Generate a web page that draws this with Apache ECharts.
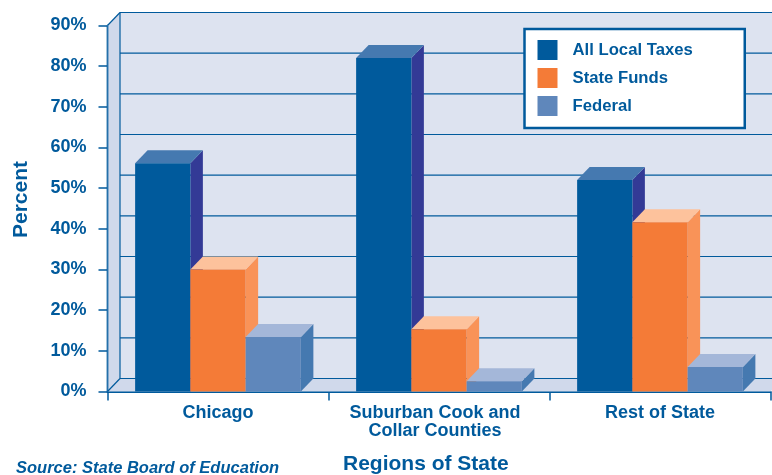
<!DOCTYPE html>
<html>
<head>
<meta charset="utf-8">
<style>html,body{margin:0;padding:0;background:#fff}#c{width:772px;height:475px}</style>
<script src="https://cdn.jsdelivr.net/npm/echarts@6/dist/echarts.min.js"></script>
</head>
<body>
<div id="c"></div>
<script>
var categories = ['Chicago', 'Suburban Cook and\nCollar Counties', 'Rest of State'];
var allLocalTaxes = [56.1, 82, 52];
var stateFunds = [30, 15.3, 41.6];
var federal = [13.4, 2.5, 6];
var yTicks = [0, 10, 20, 30, 40, 50, 60, 70, 80, 90];

var BLUE = '#005a9c';
var DX = 12.5, DY = -13;
var FONT = '"Liberation Sans", Arial, sans-serif';

var chart = echarts.init(document.getElementById('c'), null, {renderer: 'canvas'});

function wallRender(params, api) {
  var cs = params.coordSys;
  var left = cs.x, right = cs.x + cs.width;
  var y0 = api.coord([0, 0])[1], yTop = api.coord([0, 90])[1];
  var far = right + 40;
  var kids = [
    {type: 'polygon', shape: {points: [[left + DX, yTop + DY], [far, yTop + DY], [far, y0 + DY], [left + DX, y0 + DY]]},
      style: {fill: '#dde3f0'}},
    {type: 'polygon', shape: {points: [[left, yTop], [left + DX, yTop + DY], [left + DX, y0 + DY], [left, y0]]},
      style: {fill: '#d0d9eb'}},
    {type: 'polygon', shape: {points: [[left, y0], [left + DX, y0 + DY], [right + DX, y0 + DY], [right, y0]]},
      style: {fill: '#d0d9eb'}}
  ];
  yTicks.forEach(function (t) {
    var y = api.coord([0, t])[1] + DY;
    kids.push({type: 'line', shape: {x1: left + DX, y1: y, x2: far, y2: y},
      style: {stroke: BLUE, lineWidth: 1.2}});
  });
  var lines = [
    [left, yTop, left, y0, 2, 0.72],
    [left + DX, yTop + DY, left + DX, y0 + DY, 1.2, 1],
    [left, yTop, left + DX, yTop + DY, 1.2, 1],
    [left, y0, left + DX, y0 + DY, 1.2, 1]
  ];
  lines.forEach(function (l) {
    kids.push({type: 'line', shape: {x1: l[0], y1: l[1], x2: l[2], y2: l[3]},
      style: {stroke: BLUE, lineWidth: l[4], opacity: l[5]}});
  });
  return {type: 'group', children: kids};
}

function barRender(slot, topColor, sideColor) {
  return function (params, api) {
    var p = api.coord([api.value(0), api.value(1)]);
    var base = api.coord([api.value(0), 0]);
    var w = api.size([1, 0])[0] / 4;
    var x = p[0] + (slot - 1.5) * w;
    var y = p[1], b = base[1];
    return {type: 'group', children: [
      {type: 'polygon', shape: {points: [[x + w, y], [x + w + DX, y + DY], [x + w + DX, b + DY], [x + w, b]]},
        style: {fill: sideColor}},
      {type: 'polygon', shape: {points: [[x, y], [x + DX, y + DY], [x + w + DX, y + DY], [x + w, y]]},
        style: {fill: topColor}},
      {type: 'rect', shape: {x: x, y: y, width: w, height: b - y},
        style: {fill: api.visual('color')}}
    ]};
  };
}

function rows(values) {
  return values.map(function (v, i) { return [i, v]; });
}

chart.setOption({
  animation: false,
  textStyle: {fontFamily: FONT},
  grid: {left: 107.5, top: 25.5, width: 663, height: 366, containLabel: false},
  title: [
    {text: 'Source: State Board of Education', left: 11, top: 455,
      textStyle: {fontFamily: FONT, fontSize: 16.5, fontWeight: 'bold', fontStyle: 'italic', color: BLUE}},
    {text: 'Regions of State', left: 338, top: 449,
      textStyle: {fontFamily: FONT, fontSize: 21, fontWeight: 'bold', color: BLUE}}
  ],
  legend: {
    data: ['All Local Taxes', 'State Funds', 'Federal'],
    orient: 'vertical', left: 524.5, top: 29,
    padding: [11, 52, 12, 13],
    itemWidth: 20, itemHeight: 20, itemGap: 8,
    icon: 'rect',
    backgroundColor: '#fff', borderColor: BLUE, borderWidth: 2.5,
    selectedMode: false,
    textStyle: {fontFamily: FONT, fontSize: 16.7, fontWeight: 'bold', color: BLUE, padding: [0, 0, 0, 10]}
  },
  xAxis: {
    type: 'category', data: categories,
    axisLine: {lineStyle: {color: BLUE, width: 2}},
    axisTick: {show: true, length: 9, alignWithLabel: false, lineStyle: {color: BLUE, width: 1.5}},
    axisLabel: {
      margin: 13, fontFamily: FONT, fontSize: 18, fontWeight: 'bold', color: BLUE, lineHeight: 18, interval: 0,
      formatter: function (v) {
        return v.indexOf('\n') >= 0 ? v.split('\n').map(function (s) { return '{w|' + s + '}'; }).join('\n') : v;
      },
      rich: {w: {fontFamily: FONT, fontSize: 18, fontWeight: 'bold', color: BLUE, lineHeight: 18, padding: [0, 8, 0, 0]}}
    },
    splitLine: {show: false}
  },
  yAxis: {
    type: 'value', min: 0, max: 90, interval: 10,
    name: 'Percent', nameLocation: 'middle', nameGap: 76, nameRotate: 90,
    nameTextStyle: {fontFamily: FONT, fontSize: 21, fontWeight: 'bold', color: BLUE, padding: [0, 0, 0, 18]},
    axisLine: {show: true, lineStyle: {color: BLUE, width: 2, opacity: 0.8}},
    axisTick: {show: true, length: 9, lineStyle: {color: BLUE, width: 1.5}},
    axisLabel: {margin: 21, formatter: '{value}%', fontFamily: FONT, fontSize: 18, fontWeight: 'bold', color: BLUE, padding: [2, 0, 0, 0]},
    splitLine: {show: false}
  },
  series: [
    {type: 'custom', name: 'walls', silent: true, z: 1, renderItem: wallRender, data: [[0, 0]], encode: {x: 0, y: 1}},
    {type: 'custom', name: 'All Local Taxes', z: 2, itemStyle: {color: BLUE},
      renderItem: barRender(0, '#4579b0', '#333a96'), data: rows(allLocalTaxes), encode: {x: 0, y: 1}},
    {type: 'custom', name: 'State Funds', z: 2, itemStyle: {color: '#f47b37'},
      renderItem: barRender(1, '#fdc29c', '#f99358'), data: rows(stateFunds), encode: {x: 0, y: 1}},
    {type: 'custom', name: 'Federal', z: 2, itemStyle: {color: '#5f87bb'},
      renderItem: barRender(2, '#a4b7d9', '#4579b0'), data: rows(federal), encode: {x: 0, y: 1}}
  ]
});
</script>
</body>
</html>
